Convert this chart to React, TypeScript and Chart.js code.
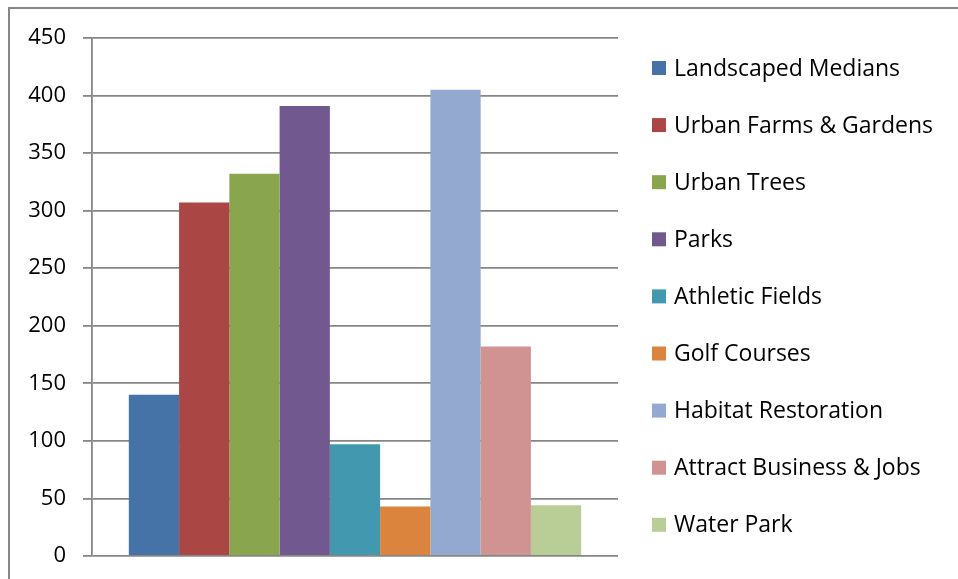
import React, { useEffect, useRef } from "react";
import { Chart, registerables } from "chart.js";

Chart.register(...registerables);

const categories = [""];
const seriesLabels = [
  "Landscaped Medians",
  "Urban Farms & Gardens",
  "Urban Trees",
  "Parks",
  "Athletic Fields",
  "Golf Courses",
  "Habitat Restoration",
  "Attract Business & Jobs",
  "Water Park",
];
const seriesValues = [140, 307, 332, 391, 97, 43, 405, 182, 44];
const seriesColors = [
  "#4572A7",
  "#AA4643",
  "#89A54E",
  "#71588F",
  "#4198AF",
  "#DB843D",
  "#93A9CF",
  "#D19392",
  "#B9CD96",
];
const yTicks = [0, 50, 100, 150, 200, 250, 300, 350, 400, 450];

const FONT = "'Open Sans', sans-serif";

const legendPlugin = {
  id: "sideLegend",
  afterDraw(chart: any) {
    const ctx = chart.ctx;
    ctx.save();
    ctx.font = `23px ${FONT}`;
    ctx.textBaseline = "middle";
    ctx.textAlign = "left";
    chart.data.datasets.forEach((ds: any, i: number) => {
      const cy = 68 + i * 57.1;
      ctx.fillStyle = ds.backgroundColor;
      ctx.fillRect(652, cy - 7, 14, 14);
      ctx.fillStyle = "#000";
      ctx.fillText(ds.label, 674, cy + 1);
    });
    ctx.restore();
  },
};

export default function App() {
  const ref = useRef<HTMLCanvasElement | null>(null);
  useEffect(() => {
    if (!ref.current) return;
    const chart = new Chart(ref.current, {
      type: "bar",
      data: {
        labels: categories,
        datasets: seriesLabels.map((label, i) => ({
          label,
          data: [seriesValues[i]],
          backgroundColor: seriesColors[i],
          borderWidth: 0,
          categoryPercentage: 0.86,
          barPercentage: 1,
        })),
      },
      options: {
        animation: false,
        responsive: false,
        maintainAspectRatio: false,
        layout: { padding: { left: 0, top: 38, right: 340, bottom: 23 } },
        plugins: { legend: { display: false }, tooltip: { enabled: false } },
        scales: {
          x: { display: false },
          y: {
            min: 0,
            max: 450,
            afterBuildTicks(scale: any) {
              scale.ticks = yTicks.map((v) => ({ value: v }));
            },
            afterFit(scale: any) {
              scale.width = 92;
              scale.paddingTop = 0;
              scale.paddingBottom = 0;
            },
            ticks: {
              color: "#000",
              padding: 17,
              font: { family: FONT, size: 22 },
            },
            grid: {
              color: "#868686",
              lineWidth: 1.8,
              tickLength: 9,
              drawTicks: true,
            },
            border: { display: true, color: "#868686", width: 1.8 },
          },
        },
      },
      plugins: [legendPlugin],
    });
    return () => chart.destroy();
  }, []);
  return (
    <div style={{ position: "fixed", left: 0, top: 0, width: 958, height: 579, background: "#fff", overflow: "hidden" }}>
      <div
        style={{
          position: "absolute",
          left: 8,
          top: 7,
          width: 950,
          height: 572,
          borderTop: "2px solid #878787",
          borderLeft: "2px solid #878787",
          boxSizing: "border-box",
        }}
      />
      <canvas ref={ref} width={958} height={579} style={{ position: "absolute", left: 0, top: 0, width: 958, height: 579 }} />
    </div>
  );
}
